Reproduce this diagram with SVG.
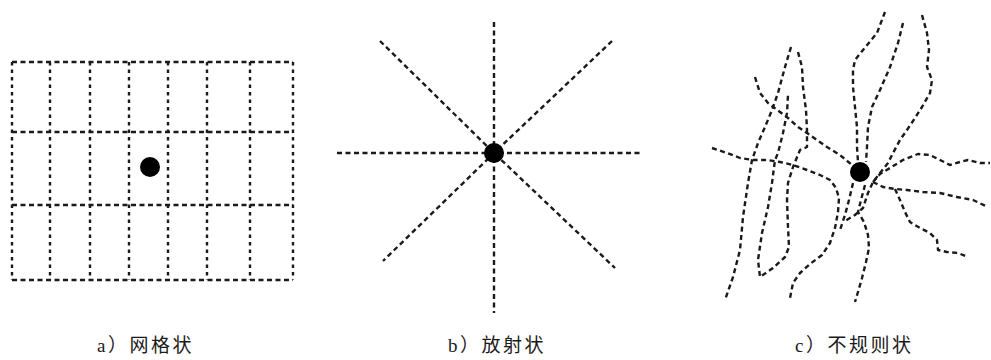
<svg xmlns="http://www.w3.org/2000/svg" width="991" height="360" viewBox="0 0 991 360">
<style>
.bg{fill:#ffffff}
.dash{fill:none;stroke:#1a1a1a;stroke-width:2.4;stroke-dasharray:5 3.5;stroke-linecap:butt;stroke-linejoin:round}
.dashv{fill:none;stroke:#1a1a1a;stroke-width:2.4;stroke-dasharray:3.5 4}
.dot{fill:#000}
.lbl{font-family:"Liberation Serif","Noto Sans CJK SC",serif;font-size:19px;fill:#1a1a1a;letter-spacing:2.5px}
</style>
<rect class="bg" x="0" y="0" width="991" height="360"/>
<g id="connectors">
  <g id="grid-lines">
    <path class="dash" d="M12 62H293M12 132H293M12 205H293M12 280H293"/>
    <path class="dashv" d="M12 62V280M50 62V280M90 62V280M129 62V280M168 62V280M207 62V280M250 62V280M293 62V280"/>
  </g>
  <g id="radial-lines">
    <path class="dash" d="M494 22V313M337 153H643M380 41L494 153L615 268M612 41L494 153L383 261"/>
  </g>
  <g id="irregular-lines">
    <path class="dash" d="M791 47L785 67L778 93L772 110L765 127L758 143L752 160L748 183L743 217L740 250L733 277L725 300"/>
    <path class="dash" d="M798 52L802 67L803 87L806 110L807 130L807 147L800 150L793 167L788 183L787 200L788 227L789 247L785 257L773 268L760 277L758 260L762 233L768 207L772 183L775 160L778 153L783 133L787 113L788 95"/>
    <path class="dash" d="M755 77L760 93L768 103L780 112L788 118L798 127L807 133L817 140L827 147L840 155L852 165"/>
    <path class="dash" d="M712 148L727 153L740 158L753 160L767 160L780 162L793 165L807 170L820 175L830 180L836 188L839 198L838 212L835 228L830 243L822 255L810 264L800 273L793 283L790 298"/>
    <path class="dash" d="M885 12L877 33L863 50L855 60L853 70L853 87L855 107L857 127L857 147L858 162"/>
    <path class="dash" d="M903 23L898 43L890 67L880 90L872 107L868 127L867 147L866 162"/>
    <path class="dash" d="M922 15L927 33L929 50L927 67L932 80L930 93L922 107L915 118L907 130L900 140L893 153L888 163L880 173L873 182L868 193L863 208L855 215L845 221"/>
    <path class="dash" d="M853 183L849 200L845 215L840 230"/>
    <path class="dash" d="M865 185L861 200L858 212L864 222L868 235L869 248L866 262L862 278L858 292L855 302"/>
    <path class="dash" d="M873 182L880 174L890 168L903 160L918 154L930 155L940 160L950 165L960 162L968 160L980 163L990 163"/>
    <path class="dash" d="M873 182L883 187L895 189L907 190L923 192L940 193L957 197L973 200L988 207"/>
    <path class="dash" d="M895 189L900 200L905 212L910 222L920 228L930 233L937 240L938 250L947 252L958 253L968 257"/>
  </g>
</g>
<g id="node-a"><circle class="dot" cx="150" cy="167" r="10"/></g>
<g id="node-b"><circle class="dot" cx="494" cy="153" r="10"/></g>
<g id="node-c"><circle class="dot" cx="860" cy="172" r="10"/></g>
<g id="labels">
  <text id="label-a" class="lbl" x="97" y="352">a）网格状</text>
  <text id="label-b" class="lbl" x="448" y="352">b）放射状</text>
  <text id="label-c" class="lbl" x="795" y="352">c）不规则状</text>
</g>
</svg>
